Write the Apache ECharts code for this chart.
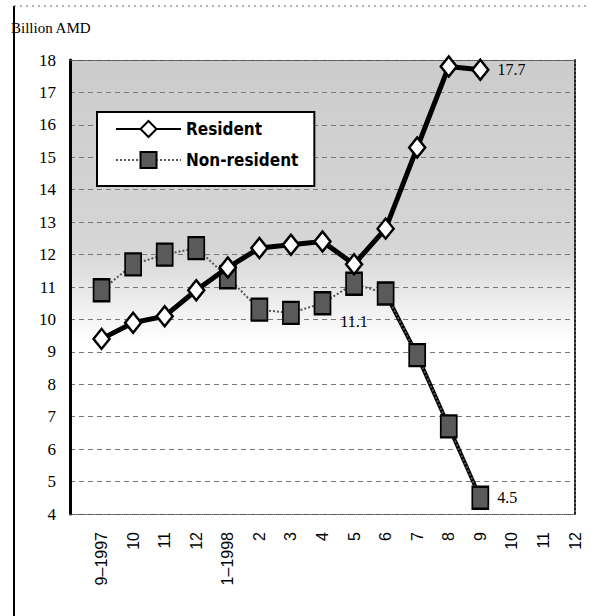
<!DOCTYPE html>
<html>
<head>
<meta charset="utf-8">
<script src="https://cdn.jsdelivr.net/npm/echarts@6/dist/echarts.min.js"></script>
<style>html,body{margin:0;padding:0;background:#fff}#c{width:591px;height:616px}</style>
</head>
<body>
<div id="c"></div>
<script>
const categories = ['9–1997','10','11','12','1–1998','2','3','4','5','6','7','8','9','10','11','12'];
const resident = [9.4, 9.9, 10.1, 10.9, 11.6, 12.2, 12.3, 12.4, 11.7, 12.8, 15.3, 17.8, 17.7];
const nonResident = [10.9, 11.7, 12.0, 12.2, 11.3, 10.3, 10.2, 10.5, 11.1, 10.8, 8.9, 6.7, 4.5];
const yTicks = {min: 4, max: 18, step: 1};
const labelledResident = [12];
const labelledNonResident = [8, 12];

const chart = echarts.init(document.getElementById('c'), null, {renderer: 'svg'});
const serif = "'Liberation Serif','Times New Roman',serif";
const narrow = "'Liberation Sans Narrow','DejaVu Sans Condensed','Liberation Sans',sans-serif";

const resData = resident.map((v, i) => ({
  value: [i, v],
  label: labelledResident.includes(i) ? {show: true, position: 'right', distance: 8, formatter: String(v)} : {show: false}
}));
const nonData = nonResident.map((v, i) => ({
  value: [i, v],
  label: labelledNonResident.includes(i)
    ? (i === nonResident.length - 1
        ? {show: true, position: 'right', distance: 8, formatter: String(v)}
        : {show: true, position: 'bottom', distance: 18, formatter: String(v)})
    : {show: false}
}));
const tailStart = 9;
const tailData = nonResident.map((v, i) => i >= tailStart ? [i, v] : [i, null]);

chart.setOption({
  animation: false,
  backgroundColor: '#fff',
  graphic: [
    {type: 'line', shape: {x1: 14, y1: 6, x2: 14, y2: 616}, style: {stroke: '#000', lineWidth: 2}},
    {type: 'line', shape: {x1: 14, y1: 6, x2: 586, y2: 6}, style: {stroke: '#666', lineWidth: 1, lineDash: [2, 4]}},
    {type: 'text', left: 11, top: 20, style: {text: 'Billion AMD', font: "15px " + serif, fill: '#000'}}
  ],
  grid: {
    left: 70, right: 16, top: 60, bottom: 102,
    show: true, borderWidth: 0,
    backgroundColor: new echarts.graphic.LinearGradient(0, 0, 0, 1, [
      {offset: 0, color: '#cccccc'},
      {offset: 0.42, color: '#d6d6d6'},
      {offset: 0.62, color: '#ffffff'},
      {offset: 1, color: '#ffffff'}
    ])
  },
  legend: {
    orient: 'vertical',
    left: 97, top: 112,
    padding: [8, 16, 17, 18],
    itemGap: 13,
    itemWidth: 65, itemHeight: 20,
    backgroundColor: '#fff',
    borderColor: '#000', borderWidth: 2,
    textStyle: {fontFamily: narrow, fontSize: 17, fontWeight: 'bold', color: '#000'},
    data: ['Resident', 'Non-resident']
  },
  xAxis: [{
    type: 'value', min: -1, max: 15, interval: 1,
    axisLine: {show: true, onZero: false, lineStyle: {color: '#555', type: 'dotted', width: 1}},
    axisTick: {show: false},
    splitLine: {show: false},
    axisLabel: {
      rotate: 90, margin: 18,
      fontFamily: "'Liberation Sans',Arial,sans-serif", fontSize: 16, color: '#000',
      formatter: v => (v >= 0 && v < categories.length) ? categories[v] : ''
    }
  }, {
    type: 'value', min: -1, max: 15, position: 'top',
    axisLine: {show: true, onZero: false, lineStyle: {color: '#555', type: 'dotted', width: 1}},
    axisTick: {show: false}, axisLabel: {show: false}, splitLine: {show: false}
  }],
  yAxis: [{
    type: 'value', min: yTicks.min, max: yTicks.max, interval: yTicks.step, position: 'left',
    axisLine: {show: true, onZero: false, lineStyle: {color: '#000', width: 3}},
    axisTick: {show: false},
    splitLine: {show: true, lineStyle: {color: '#777', type: [5, 4], width: 1}},
    axisLabel: {margin: 14, fontFamily: serif, fontSize: 17, color: '#000'}
  }, {
    type: 'value', min: yTicks.min, max: yTicks.max, position: 'right',
    axisLine: {show: true, onZero: false, lineStyle: {color: '#222', type: 'dotted', width: 2}},
    axisTick: {show: false}, axisLabel: {show: false}, splitLine: {show: false}
  }],
  series: [
    {
      name: 'Non-resident-tail', type: 'line', data: tailData,
      symbol: 'none', lineStyle: {color: '#000', width: 4}, z: 2,
      silent: true, connectNulls: false
    },
    {
      name: 'Non-resident', type: 'line', data: nonData,
      symbol: 'rect', symbolSize: [16, 22],
      lineStyle: {color: '#555', width: 2, type: [2, 2]},
      itemStyle: {color: '#5a5a5a', borderColor: '#000', borderWidth: 2},
      label: {fontFamily: serif, fontSize: 16, color: '#000'},
      z: 3
    },
    {
      name: 'Resident', type: 'line', data: resData,
      symbol: 'diamond', symbolSize: [16, 20],
      lineStyle: {color: '#000', width: 5},
      itemStyle: {color: '#fff', borderColor: '#000', borderWidth: 2.5},
      label: {fontFamily: serif, fontSize: 16, color: '#000'},
      z: 4
    }
  ]
});
</script>
</body>
</html>
